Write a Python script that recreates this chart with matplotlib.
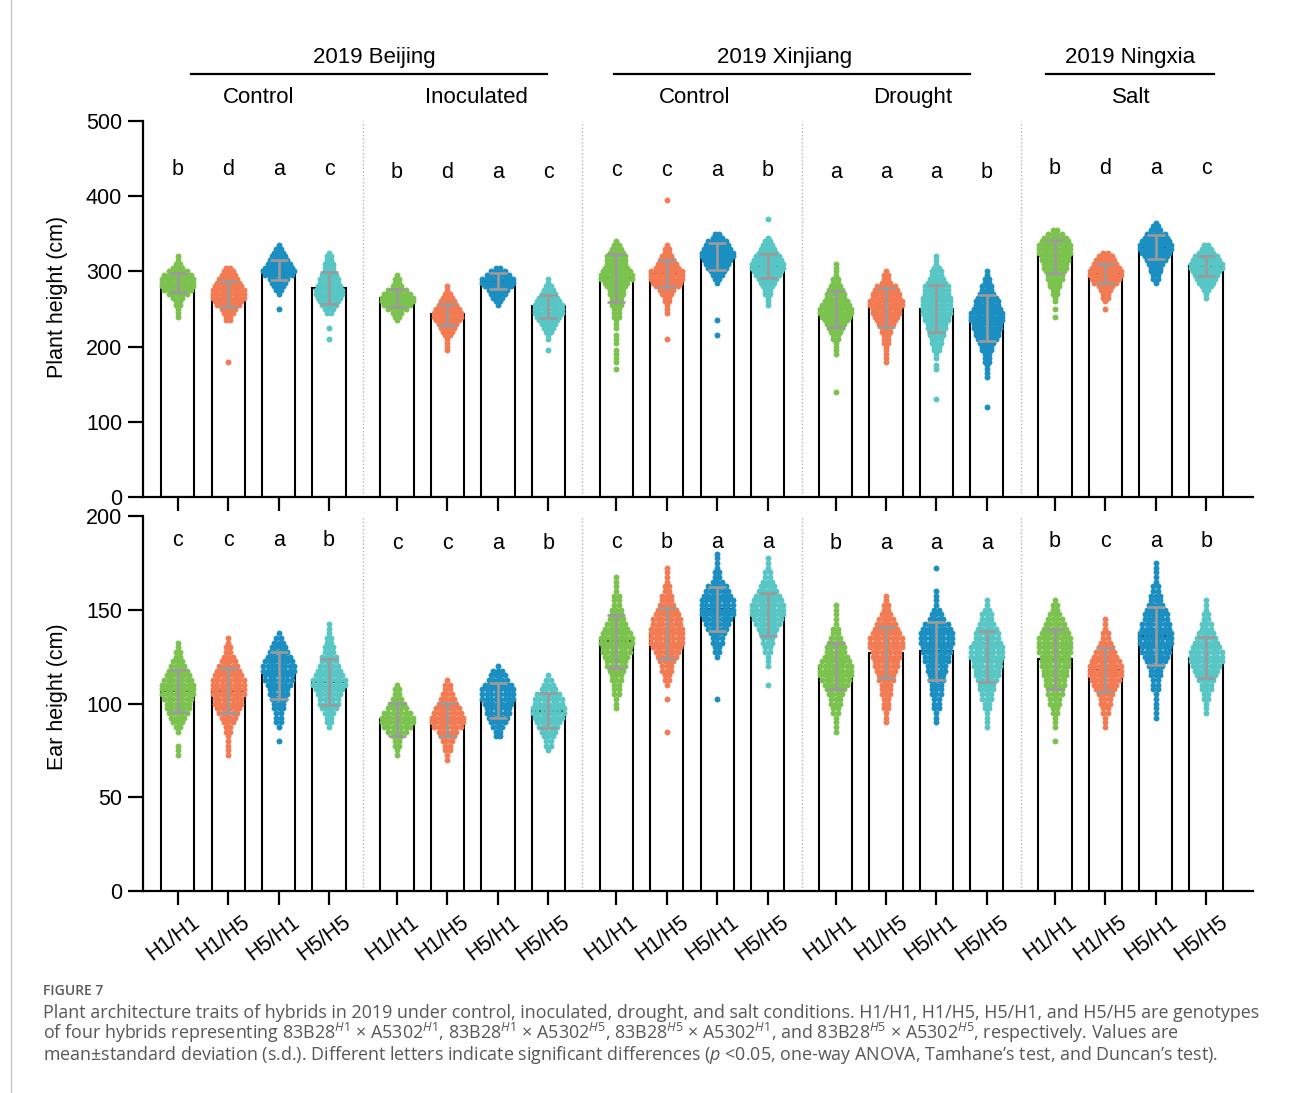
import matplotlib
matplotlib.use("Agg")
import matplotlib.pyplot as plt
import matplotlib.transforms as mtransforms
from matplotlib.lines import Line2D
import numpy as np

plt.rcParams['font.family'] = ['Liberation Sans', 'DejaVu Sans']
plt.rcParams['mathtext.fontset'] = 'custom'
plt.rcParams['mathtext.rm'] = 'Open Sans'
plt.rcParams['mathtext.it'] = 'Open Sans:italic'

# ---------------- data ----------------
genotypes = ["H1/H1", "H1/H5", "H5/H1", "H5/H5"]
sites = ["2019 Beijing", "2019 Xinjiang", "2019 Ningxia"]
treatments = ["Control", "Inoculated", "Control", "Drought", "Salt"]

# plant height (cm): mean and s.d. for the 20 bars (5 treatments x 4 genotypes)
height_mean = [285, 270, 302, 278,
               264, 243, 287, 253.5,
               291, 297, 320, 307,
               250, 252, 250.5, 238,
               320, 297, 332, 307]
height_sd = [13, 17.5, 13, 21,
             12, 14, 11, 15.5,
             32, 18, 18, 16,
             24, 26, 31.5, 30,
             22, 13, 16, 13]
height_letters = list("bdac" "bdac" "ccab" "aaab" "bdac")

# individual plants, binned every 5 cm: lowest bin and count per bin
height_bin = 5
height_start = [240, 180, 250, 210,
                235, 195, 255, 195,
                170, 210, 215, 255,
                140, 180, 130, 120,
                240, 250, 285, 265]
height_counts = [
    "11122357888753211",
    "10000000000223467888765432",
    "100012345787654321",
    "100100023456776554333221",
    "1235788753221",
    "111123456776543211",
    "12345788642",
    "10011234567776543211",
    "10111101110111222333445688765554321",
    "10000001112234678886543221000000000001",
    "1000100000000012345678876532",
    "111223456788765432100001",
    "10000000001111223456788765543221111",
    "1111122233456778877653221",
    "100000001101122334455667777766654332111",
    "1000000011112223345667788876654332211",
    "101011223344566778887642",
    "1012234678876542",
    "12233456788765321",
    "112345678876432",
]

# ear height (cm)
ear_mean = [106.7, 106.7, 115, 111.4,
            91.5, 91.5, 101.7, 96.2,
            133.2, 137.3, 150.4, 147.4,
            119.9, 127.2, 128.1, 125,
            124, 117.7, 136, 124.5]
ear_sd = [11, 12, 12.7, 12.4,
          8.6, 9, 9.4, 9.2,
          14, 13.8, 11.8, 11.6,
          12.2, 13.7, 15.6, 13.7,
          16, 11.8, 15.7, 10.9]
ear_letters = list("ccab" "ccab" "cbaa" "baaa" "bcab")

ear_bin = 2.5
ear_start = [72.5, 72.5, 80, 87.5,
             72.5, 70, 82.5, 75,
             97.5, 85, 102.5, 110,
             85, 90, 90, 87.5,
             80, 87.5, 92.5, 95]
ear_counts = [
    "1110012345667888765432211",
    "11111223456778888765432211",
    "100122233455677887654321",
    "12234556788765443322111",
    "1122357887543221",
    "112234578876543221",
    "2234566788875431",
    "12234567887764321",
    "11122233455677887654332221111",
    "100000010012233456788887765433221111",
    "10000000012233456788887653221111",
    "1000111223345678887654322111",
    "1111223345678887655432211111",
    "1112223334456677888765432211",
    "1112223334455667788876432111100001",
    "1111223344566778887665433211",
    "1001112233445566777888876543221",
    "111223345678887654322111",
    "1111112223345677888776654332211111",
    "1112233456788876543322111",
]

# ---------------- style ----------------
GREEN, ORANGE, BLUE, TEAL = "#7cc24f", "#f27b53", "#1b8fc2", "#58c6c5"
height_colors = [GREEN, ORANGE, BLUE, TEAL] * 3 + [GREEN, ORANGE, TEAL, BLUE] + [GREEN, ORANGE, BLUE, TEAL]
ear_colors = [GREEN, ORANGE, BLUE, TEAL] * 5

W, H = 1293, 1093
fig = plt.figure(figsize=(W / 100, H / 100), dpi=100)


def fx(px):
    return px / W


def fy(py):
    return 1 - py / H


STRIDE = 4.35          # distance between first bars of neighbouring treatment groups
BAR_W = 0.66
DX = 0.088             # horizontal spacing of dots inside one swarm row
xpos = np.array([g * STRIDE + j for g in range(5) for j in range(4)])
XLIM = (-0.69, 21.33)
FS = 15.5


def draw_panel(ax, means, sds, letters, letter_y, starts, counts, step, colors,
               ymax, ystep):
    ax.bar(xpos, means, width=BAR_W, color="white", edgecolor="black",
           linewidth=1.5, zorder=1)
    for x, s0, cnt, col in zip(xpos, starts, counts, colors):
        xs, ys = [], []
        for i, ch in enumerate(cnt):
            n = int(ch)
            for k in range(n):
                xs.append(x + (k - (n - 1) / 2) * DX)
                ys.append(s0 + i * step)
        ax.scatter(xs, ys, s=18, color=col, linewidths=0, zorder=2)
    ax.errorbar(xpos, means, yerr=sds, fmt="none", ecolor="#9b9b9b",
                elinewidth=1.9, capsize=6.5, capthick=1.9, zorder=3)
    for i, (x, lt) in enumerate(zip(xpos, letters)):
        ax.text(x, letter_y[i // 4], lt, ha="center", va="baseline",
                fontsize=FS, zorder=4)
    for g in range(4):
        ax.axvline(g * STRIDE + 3 + (STRIDE - 3) / 2, color="#b5b5b5",
                   lw=1.0, ls=(0, (1, 1.6)), zorder=0)
    ax.set_xlim(*XLIM)
    ax.set_ylim(0, ymax)
    ax.set_yticks(np.arange(0, ymax + 1, ystep))
    for sp in ("top", "right"):
        ax.spines[sp].set_visible(False)
    for sp in ("left", "bottom"):
        ax.spines[sp].set_linewidth(1.6)
    ax.tick_params(axis="y", length=10.5, width=1.6, labelsize=FS, pad=4.5)
    ax.tick_params(axis="x", length=10, width=1.6, labelsize=FS, pad=5)
    ax.set_xticks(xpos)
    ax.patch.set_alpha(0)


ax1 = fig.add_axes([fx(143), fy(497), fx(1253) - fx(143), fy(121) - fy(497)])
ax2 = fig.add_axes([fx(143), fy(891), fx(1253) - fx(143), fy(516) - fy(891)])

draw_panel(ax1, height_mean, height_sd, height_letters,
           [428, 424.7, 427.5, 424.7, 429.5],
           height_start, height_counts, height_bin, height_colors, 500, 100)
ax1.set_xticklabels([])

draw_panel(ax2, ear_mean, ear_sd, ear_letters,
           [184, 182.2, 182.8, 182.6, 183.6],
           ear_start, ear_counts, ear_bin, ear_colors, 200, 50)
shift = mtransforms.ScaledTranslation(-5 / 100, 0, fig.dpi_scale_trans)
ax2.set_xticklabels(genotypes * 5, rotation=37, ha="center")
for lab in ax2.get_xticklabels():
    lab.set_transform(lab.get_transform() + shift)

fig.text(fx(58), fy(297), "Plant height (cm)", rotation=90, ha="center",
         va="center", fontsize=FS)
fig.text(fx(58), fy(697), "Ear height (cm)", rotation=90, ha="center",
         va="center", fontsize=FS)

# ---------------- group headers ----------------
HFS = 16
site_x = [374, 785, 1130]
site_lines = [(191, 547), (614, 970), (1046, 1214)]
for name, cx, (x0, x1) in zip(sites, site_x, site_lines):
    fig.text(fx(cx), fy(63.5), name, ha="center", va="baseline", fontsize=HFS)
    fig.add_artist(Line2D([fx(x0), fx(x1)], [fy(74), fy(74)], color="black",
                          lw=1.6))
treat_x = [259, 476.5, 695, 912.5, 1131]
for name, cx in zip(treatments, treat_x):
    fig.text(fx(cx), fy(103), name, ha="center", va="baseline", fontsize=HFS)

# ---------------- caption ----------------
fig.add_artist(Line2D([fx(11), fx(11)], [0, 1], color="#c8c8c8", lw=1.0))
CAP_COLOR = "#575757"
fig.text(fx(43), fy(995.3), "FIGURE 7", fontsize=10, family="Open Sans",
         weight="semibold", color="#5a5a5a", va="baseline")

cap_lines = [
    "Plant architecture traits of hybrids in 2019 under control, inoculated, "
    "drought, and salt conditions. H1/H1, H1/H5, H5/H1, and H5/H5 are genotypes",
    r"of four hybrids representing 83B28$^{\mathit{H1}}$ × A5302$^{\mathit{H1}}$, "
    r"83B28$^{\mathit{H1}}$ × A5302$^{\mathit{H5}}$, 83B28$^{\mathit{H5}}$ × "
    r"A5302$^{\mathit{H1}}$, and 83B28$^{\mathit{H5}}$ × A5302$^{\mathit{H5}}$, "
    "respectively. Values are",
    r"mean±standard deviation (s.d.). Different letters indicate significant "
    r"differences ($\mathit{p}$ <0.05, one-way ANOVA, Tamhane’s test, and Duncan’s test).",
]
cap_base = [1018.0, 1038.8, 1059.6]
texts = [fig.text(fx(43), fy(b), s, fontsize=12, family="Open Sans",
                  color=CAP_COLOR, va="baseline")
         for s, b in zip(cap_lines, cap_base)]
renderer = fig.canvas.get_renderer()
w0 = texts[0].get_window_extent(renderer).width
cap_fs = 12 * (1258 - 43) / w0
for t in texts:
    t.set_fontsize(cap_fs)

fig.savefig("out.png", dpi=100)
